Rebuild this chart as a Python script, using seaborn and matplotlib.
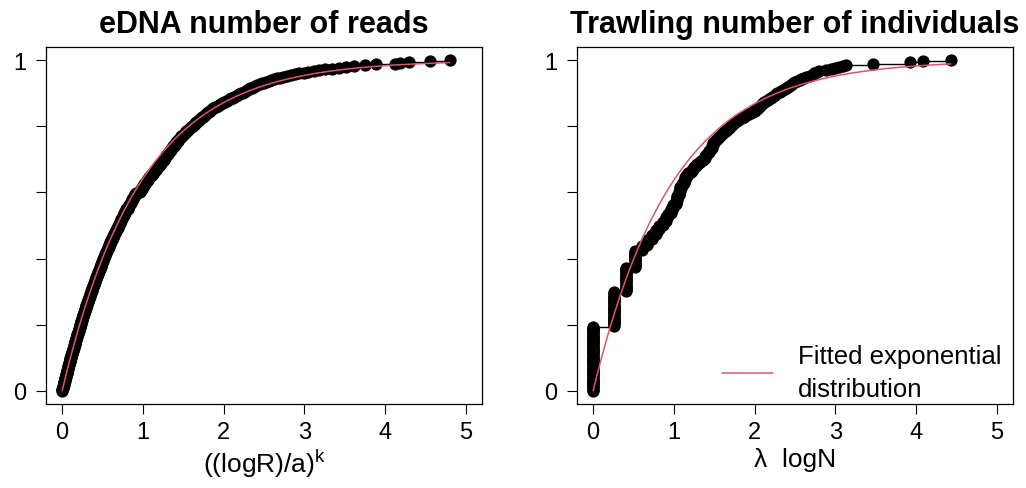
import numpy as np
import pandas as pd
import matplotlib
matplotlib.use("Agg")
import matplotlib.pyplot as plt
import seaborn as sns

# eDNA: transformed read counts ((logR)/a)^k, one value per record
edna_x = [
    0.000, 0.001, 0.004, 0.006, 0.010, 0.011, 0.015, 0.017, 0.018, 0.022,
    0.025, 0.026, 0.030, 0.033, 0.034, 0.037, 0.040, 0.042, 0.045, 0.048,
    0.050, 0.054, 0.056, 0.058, 0.062, 0.064, 0.067, 0.070, 0.072, 0.076,
    0.078, 0.081, 0.084, 0.086, 0.089, 0.093, 0.095, 0.097, 0.100, 0.103,
    0.105, 0.109, 0.111, 0.114, 0.117, 0.121, 0.123, 0.126, 0.130, 0.132,
    0.135, 0.139, 0.141, 0.144, 0.148, 0.150, 0.153, 0.156, 0.159, 0.162,
    0.165, 0.168, 0.172, 0.175, 0.177, 0.181, 0.184, 0.187, 0.190, 0.194,
    0.196, 0.199, 0.203, 0.206, 0.209, 0.212, 0.215, 0.218, 0.219, 0.222,
    0.225, 0.229, 0.232, 0.235, 0.238, 0.242, 0.245, 0.249, 0.251, 0.255,
    0.258, 0.262, 0.264, 0.268, 0.272, 0.274, 0.277, 0.281, 0.284, 0.287,
    0.290, 0.294, 0.297, 0.301, 0.304, 0.308, 0.311, 0.315, 0.318, 0.322,
    0.325, 0.329, 0.333, 0.336, 0.339, 0.343, 0.346, 0.350, 0.353, 0.356,
    0.360, 0.364, 0.367, 0.371, 0.375, 0.379, 0.382, 0.386, 0.390, 0.394,
    0.397, 0.401, 0.405, 0.409, 0.412, 0.416, 0.420, 0.424, 0.427, 0.431,
    0.435, 0.439, 0.443, 0.447, 0.451, 0.455, 0.459, 0.463, 0.467, 0.471,
    0.475, 0.479, 0.483, 0.487, 0.491, 0.495, 0.499, 0.503, 0.507, 0.511,
    0.515, 0.519, 0.524, 0.528, 0.532, 0.536, 0.541, 0.545, 0.549, 0.553,
    0.558, 0.562, 0.566, 0.570, 0.575, 0.579, 0.583, 0.587, 0.591, 0.595,
    0.600, 0.604, 0.611, 0.615, 0.619, 0.626, 0.630, 0.634, 0.641, 0.645,
    0.649, 0.656, 0.660, 0.664, 0.671, 0.675, 0.679, 0.686, 0.690, 0.695,
    0.700, 0.704, 0.711, 0.715, 0.719, 0.726, 0.730, 0.734, 0.741, 0.745,
    0.749, 0.756, 0.760, 0.764, 0.771, 0.775, 0.779, 0.786, 0.790, 0.795,
    0.810, 0.815, 0.821, 0.826, 0.832, 0.837, 0.843, 0.848, 0.854, 0.860,
    0.866, 0.871, 0.877, 0.883, 0.889, 0.895, 0.901, 0.907, 0.913, 0.919,
    0.960, 0.966, 0.972, 0.979, 0.985, 0.992, 0.998, 1.005, 1.012, 1.018,
    1.025, 1.032, 1.039, 1.046, 1.053, 1.060, 1.067, 1.074, 1.081, 1.088,
    1.105, 1.112, 1.120, 1.127, 1.135, 1.143, 1.150, 1.158, 1.166, 1.174,
    1.182, 1.190, 1.198, 1.206, 1.215, 1.223, 1.232, 1.240, 1.249, 1.258,
    1.262, 1.269, 1.277, 1.284, 1.292, 1.299, 1.307, 1.314, 1.322, 1.330,
    1.337, 1.345, 1.353, 1.361, 1.369, 1.377, 1.385, 1.393, 1.400, 1.408,
    1.412, 1.421, 1.430, 1.440, 1.449, 1.459, 1.468, 1.478, 1.488, 1.498,
    1.508, 1.518, 1.529, 1.539, 1.550, 1.561, 1.572, 1.583, 1.594, 1.605,
    1.617, 1.628, 1.640, 1.651, 1.663, 1.675, 1.687, 1.699, 1.711, 1.723,
    1.735, 1.747, 1.759, 1.771, 1.783, 1.795, 1.807, 1.819, 1.831, 1.843,
    1.855, 1.873, 1.890, 1.908, 1.926, 1.944, 1.962, 1.980, 1.999, 2.018,
    2.037, 2.056, 2.075, 2.094, 2.114, 2.134, 2.154, 2.174, 2.195, 2.216,
    2.238, 2.255, 2.275, 2.292, 2.312, 2.330, 2.352, 2.371, 2.393, 2.418,
    2.445, 2.470, 2.498, 2.525, 2.556, 2.588, 2.622, 2.657, 2.695, 2.735,
    2.780, 2.830, 2.880, 2.935, 2.990, 3.050, 3.115, 3.185, 3.260, 3.340,
    3.425, 3.520, 3.620, 3.745, 3.890, 4.120, 4.180, 4.300, 4.560, 4.800,
]

# Trawling: lambda * log(number of individuals); small catches share values
trawl_tied_x = [0.00, 0.26, 0.41, 0.52, 0.60, 0.67, 0.73, 0.78, 0.82, 0.86,
                0.90, 0.93, 0.96, 0.99, 1.02, 1.04, 1.06, 1.08, 1.10, 1.12,
                1.14, 1.16, 1.18]
trawl_tied_n = [59, 31, 22, 15, 5, 5, 5, 4, 4, 4,
                4, 3, 4, 4, 4, 4, 4, 4, 3, 3,
                3, 2, 2]
trawl_single_x = [
    1.21, 1.22, 1.23, 1.24, 1.25, 1.27, 1.28, 1.29, 1.31, 1.32, 1.34, 1.36,
    1.37, 1.38, 1.39, 1.40, 1.41, 1.42, 1.43, 1.44, 1.45, 1.46, 1.47, 1.475,
    1.48, 1.485, 1.49,
    1.50, 1.51, 1.52, 1.54, 1.55, 1.56, 1.58, 1.59, 1.61, 1.62, 1.64, 1.65,
    1.67, 1.68, 1.70, 1.72, 1.73, 1.75, 1.76, 1.78, 1.79, 1.81,
    1.84, 1.87, 1.90, 1.92, 1.95, 1.98,
    2.00, 2.01, 2.03, 2.04, 2.06, 2.07, 2.09, 2.10, 2.12, 2.14,
    2.16, 2.18, 2.20, 2.22, 2.24, 2.26, 2.28, 2.31, 2.33,
    2.35, 2.37, 2.39, 2.41, 2.43, 2.45, 2.47,
    2.50, 2.53, 2.56, 2.58, 2.61, 2.64,
    2.68, 2.71, 2.74, 2.77, 2.80,
    2.89, 2.94, 2.99, 3.04, 3.09, 3.13,
    3.47, 3.93, 4.09, 4.43,
]

panel_titles = ["eDNA number of reads", "Trawling number of individuals"]
panel_xlabels = [r"$\mathregular{((logR)/a)^{k}}$", "λ  logN"]
x_ticks = [0, 1, 2, 3, 4, 5]
y_ticks = [0.0, 0.2, 0.4, 0.6, 0.8, 1.0]
y_ticklabels = ["0", "", "", "", "", "1"]
fit_label = "Fitted exponential\ndistribution"

FIT_COLOR = "#DF536B"

sns.set_theme(style="ticks")
plt.rcParams["font.family"] = ["Liberation Sans", "DejaVu Sans"]
plt.rcParams["mathtext.fontset"] = "custom"
plt.rcParams["mathtext.rm"] = "Liberation Sans"
plt.rcParams["text.color"] = "black"
plt.rcParams["axes.labelcolor"] = "black"
plt.rcParams["xtick.color"] = "black"
plt.rcParams["ytick.color"] = "black"


def ecdf_panel(ax, values, title, xlabel, show_legend=False):
    xs = np.sort(np.asarray(values, dtype=float))
    ys = np.arange(xs.size) / (xs.size - 1)
    pts = pd.DataFrame({"x": xs, "y": ys})

    sns.lineplot(data=pts, x="x", y="y", estimator=None, sort=False,
                 drawstyle="steps-post", color="black", lw=1.0, ax=ax)
    sns.scatterplot(data=pts, x="x", y="y", s=78, color="black",
                    linewidth=0, ax=ax, zorder=3)

    # exponential fitted by maximum likelihood
    rate = 1.0 / xs.mean()
    grid = np.linspace(0, xs.max(), 400)
    fit = pd.DataFrame({"x": grid, "y": 1.0 - np.exp(-rate * grid)})
    sns.lineplot(data=fit, x="x", y="y", color=FIT_COLOR, lw=1.1, ax=ax,
                 zorder=4, label=fit_label if show_legend else None)

    ax.set_xlim(-0.2, 5.2)
    ax.set_ylim(-0.04, 1.04)
    ax.set_xticks(x_ticks)
    ax.set_xticklabels([str(t) for t in x_ticks])
    ax.set_yticks(y_ticks)
    ax.set_yticklabels(y_ticklabels)
    ax.tick_params(direction="out", length=7.2, width=0.8, colors="black",
                   labelcolor="black", labelsize=17)
    ax.tick_params(axis="x", pad=5)
    ax.tick_params(axis="y", pad=7)
    for sp in ax.spines.values():
        sp.set_visible(True)
        sp.set_color("black")
        sp.set_linewidth(0.9)
    ax.set_title(title, fontsize=22, fontweight="bold", pad=11, color="black")
    ax.set_xlabel(xlabel, fontsize=19, labelpad=3, color="black")
    ax.set_ylabel("")

    if show_legend:
        leg = ax.legend(loc="center left", bbox_to_anchor=(0.3326, 0.088),
                        frameon=False, fontsize=18.5, handlelength=2.0,
                        handletextpad=0.95, borderpad=0, borderaxespad=0)
        for t in leg.get_texts():
            t.set_linespacing(1.45)
            t.set_color("black")
    else:
        leg = ax.get_legend()
        if leg is not None:
            leg.remove()


fig = plt.figure(figsize=(10.26, 4.89), dpi=100)
ax1 = fig.add_axes([46 / 1026, 1 - 405 / 489, 436 / 1026, 357 / 489])
ax2 = fig.add_axes([577 / 1026, 1 - 405 / 489, 436 / 1026, 357 / 489])

trawl_x = np.concatenate([np.repeat(trawl_tied_x, trawl_tied_n), trawl_single_x])

ecdf_panel(ax1, edna_x, panel_titles[0], panel_xlabels[0])
ecdf_panel(ax2, trawl_x, panel_titles[1], panel_xlabels[1], show_legend=True)

fig.savefig("out.png", dpi=100, facecolor="white")
